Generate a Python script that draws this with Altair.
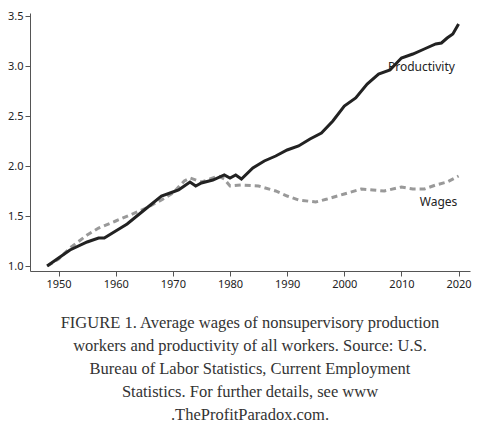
import altair as alt
import pandas as pd

prod_years = [1948, 1950, 1952, 1955, 1957, 1958, 1960, 1962, 1965, 1968, 1970, 1971, 1972, 1973, 1974, 1975,
              1977, 1979, 1980, 1981, 1982, 1984, 1986, 1988, 1990, 1992, 1994, 1996, 1998, 2000,
              2002, 2004, 2006, 2008, 2010, 2012, 2014, 2016, 2017, 2018, 2019, 2020]
prod_vals = [1.00, 1.08, 1.16, 1.24, 1.28, 1.28, 1.35, 1.42, 1.56, 1.70, 1.74, 1.76, 1.80, 1.84, 1.80, 1.83,
             1.86, 1.91, 1.88, 1.91, 1.87, 1.98, 2.05, 2.10, 2.16, 2.20, 2.27, 2.33, 2.45, 2.60,
             2.68, 2.82, 2.92, 2.96, 3.08, 3.12, 3.17, 3.22, 3.23, 3.28, 3.32, 3.42]

wage_years = [1948, 1950, 1952, 1955, 1957, 1960, 1965, 1968, 1970, 1972, 1973, 1975, 1977, 1978, 1979,
              1980, 1982, 1985, 1988, 1990, 1992, 1995, 1997, 2000, 2003, 2005, 2007, 2010, 2012,
              2014, 2016, 2018, 2020]
wage_vals = [1.00, 1.07, 1.18, 1.31, 1.38, 1.45, 1.57, 1.66, 1.73, 1.85, 1.88, 1.84, 1.88, 1.90, 1.87,
             1.80, 1.81, 1.80, 1.75, 1.70, 1.66, 1.64, 1.67, 1.72, 1.77, 1.76, 1.75, 1.79, 1.77,
             1.77, 1.81, 1.84, 1.90]

label_text = ["Productivity", "Wages"]
label_x = [2013.5, 2016.5]
label_y = [2.99, 1.64]

caption = [
    "FIGURE 1. Average wages of nonsupervisory production",
    "workers and productivity of all workers. Source: U.S.",
    "Bureau of Labor Statistics, Current Employment",
    "Statistics. For further details, see www",
    ".TheProfitParadox.com.",
]

prod = pd.DataFrame({"year": prod_years, "value": prod_vals})
wage = pd.DataFrame({"year": wage_years, "value": wage_vals})
labels = pd.DataFrame({"year": label_x, "value": label_y, "text": label_text})

x = alt.X("year:Q", scale=alt.Scale(domain=[1945, 2022], nice=False, zero=False), title=None,
          axis=alt.Axis(values=list(range(1950, 2021, 10)), format="d", grid=False,
                        labelFont="Noto Sans", labelFontSize=11, labelColor="#222",
                        domainColor="#555", tickColor="#555"))
y = alt.Y("value:Q", scale=alt.Scale(domain=[0.95, 3.53], nice=False, zero=False), title=None,
          axis=alt.Axis(values=[1.0, 1.5, 2.0, 2.5, 3.0, 3.5], format=".1f", grid=False,
                        labelFont="Noto Sans", labelFontSize=11, labelColor="#222",
                        domainColor="#555", tickColor="#555"))

prod_line = alt.Chart(prod).mark_line(color="#222", strokeWidth=3).encode(x=x, y=y)
wage_line = alt.Chart(wage).mark_line(color="#999", strokeWidth=3, strokeDash=[6, 4]).encode(x=x, y=y)
text = alt.Chart(labels).mark_text(font="Noto Sans", fontSize=12, color="#222").encode(
    x="year:Q", y="value:Q", text="text:N")

chart = alt.layer(wage_line, prod_line, text).properties(
    width=440, height=258,
    autosize=alt.AutoSizeParams(type="none"),
    padding={"left": 22, "top": 5, "right": 2, "bottom": 150},
    title=alt.Title(caption, orient="bottom", anchor="middle", offset=26,
                    font="Liberation Serif", fontSize=16.5, fontWeight="normal",
                    color="#333", lineHeight=23),
).configure_view(stroke=None)

chart.save("out.html", embed_options={"renderer": "svg", "actions": False})
